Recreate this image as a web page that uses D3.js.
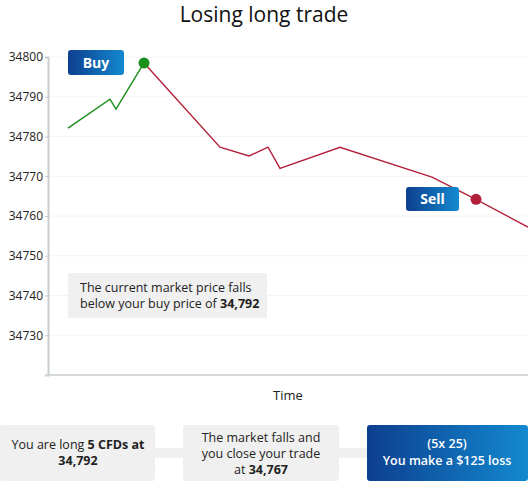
<!DOCTYPE html><html><head><meta charset="utf-8">
<script src="https://cdn.jsdelivr.net/npm/d3@7"></script>
<style>body{margin:0;background:#fff;font-family:"Open Sans",sans-serif}</style></head><body>
<script>
const times=[0,1,2,3,4,5,6,7,8,9,10,11];
const prices=[34782.1,34789.4,34786.9,34798.5,34777.3,34775.1,34777.3,34772.0,34777.3,34769.8,34764.2,34757.2];
const xPos=[68,110,116,144,220,249,268,280,340,432,476,528];
const buyIndex=3, sellIndex=10;
const yTicks=[34730,34740,34750,34760,34770,34780,34790,34800];
const W=528,H=481;
const svg=d3.select("body").append("svg").attr("width",W).attr("height",H).style("font-family","'Open Sans',sans-serif");
const defs=svg.append("defs");
const g=defs.append("linearGradient").attr("id","bg");
g.append("stop").attr("offset","0").attr("stop-color","#0d3f8f");
g.append("stop").attr("offset","1").attr("stop-color","#1389cf");
svg.append("text").attr("x",264).attr("y",22).attr("text-anchor","middle").attr("font-size",21).attr("fill","#111").text("Losing long trade");
const y=d3.scaleLinear().domain([34720,34800]).range([375,57]);
const x=d3.scaleLinear().domain([0,11]).range([68,528]);
const xs=i=>x(0)+(xPos[i]-68);
svg.append("g").selectAll("line").data(yTicks).join("line").attr("x1",48).attr("x2",528).attr("y1",d=>y(d)).attr("y2",d=>y(d)).attr("stroke","#f4f4f4");
const ax=svg.append("g").attr("transform","translate(48,0)").call(d3.axisLeft(y).tickValues(yTicks).tickSize(3).tickFormat(d3.format("d")));
ax.select(".domain").attr("stroke","#c8cdd0").attr("stroke-width",2);
ax.selectAll(".tick line").attr("stroke","#c8cdd0");
ax.selectAll("text").attr("font-size",12).attr("fill","#222").attr("font-family","'Open Sans',sans-serif").attr("x",-5);
svg.append("line").attr("x1",48).attr("x2",528).attr("y1",375).attr("y2",375).attr("stroke","#c8cdd0").attr("stroke-width",1.5);
svg.append("text").attr("x",288).attr("y",400).attr("text-anchor","middle").attr("font-size",13).attr("fill","#222").text("Time");
const line=d3.line().x(d=>d[0]).y(d=>y(d[1]));
const pts=prices.map((p,i)=>[xs(i),p]);
svg.append("path").attr("d",line(pts.slice(0,buyIndex+1))).attr("fill","none").attr("stroke","#1a8f1a").attr("stroke-width",1.4);
svg.append("path").attr("d",line(pts.slice(buyIndex))).attr("fill","none").attr("stroke","#b3203a").attr("stroke-width",1.4);
svg.append("circle").attr("cx",pts[buyIndex][0]).attr("cy",y(prices[buyIndex])).attr("r",5.5).attr("fill","#1a8f1a");
svg.append("circle").attr("cx",pts[sellIndex][0]).attr("cy",y(prices[sellIndex])).attr("r",5.5).attr("fill","#b3203a");
function tag(x0,y0,w,h,t){svg.append("rect").attr("x",x0).attr("y",y0).attr("width",w).attr("height",h).attr("rx",3).attr("fill","url(#bg)");
svg.append("text").attr("x",x0+w/2).attr("y",y0+h/2+5).attr("text-anchor","middle").attr("fill","#fff").attr("font-weight",700).attr("font-size",14).text(t);}
tag(68,50,56,25,"Buy");tag(406,187,53,24,"Sell");
svg.append("rect").attr("x",68).attr("y",273).attr("width",199).attr("height",45).attr("fill","#f0f0f0");
const t1=svg.append("text").attr("font-size",12.5).attr("fill","#222");
t1.append("tspan").attr("x",80).attr("y",292).text("The current market price falls");
const l2=t1.append("tspan").attr("x",80).attr("y",308);l2.append("tspan").text("below your buy price of ");l2.append("tspan").attr("font-weight",700).text("34,792");
svg.append("rect").attr("x",150).attr("y",448).attr("width",230).attr("height",10).attr("fill","#f0f0f0");
svg.append("rect").attr("x",0).attr("y",425).attr("width",155).attr("height",56).attr("rx",3).attr("fill","#f0f0f0");
svg.append("rect").attr("x",183).attr("y",425).attr("width",156).attr("height",56).attr("rx",3).attr("fill","#f0f0f0");
svg.append("rect").attr("x",367).attr("y",425).attr("width",161).attr("height",56).attr("rx",3).attr("fill","url(#bg)");
const b1=svg.append("text").attr("text-anchor","middle").attr("font-size",12.5).attr("fill","#222");
const a=b1.append("tspan").attr("x",78).attr("y",449);a.append("tspan").text("You are long ");a.append("tspan").attr("font-weight",700).text("5 CFDs at");
b1.append("tspan").attr("x",78).attr("y",465).attr("font-weight",700).text("34,792");
const b2=svg.append("text").attr("text-anchor","middle").attr("font-size",12.5).attr("fill","#222");
b2.append("tspan").attr("x",261).attr("y",442).text("The market falls and");
b2.append("tspan").attr("x",261).attr("y",458).text("you close your trade");
const c=b2.append("tspan").attr("x",261).attr("y",474);c.append("tspan").text("at ");c.append("tspan").attr("font-weight",700).text("34,767");
const b3=svg.append("text").attr("text-anchor","middle").attr("font-size",12.5).attr("fill","#fff").attr("font-weight",600);
b3.append("tspan").attr("x",447).attr("y",448).text("(5x 25)");
b3.append("tspan").attr("x",447).attr("y",465).text("You make a $125 loss");
</script></body></html>
